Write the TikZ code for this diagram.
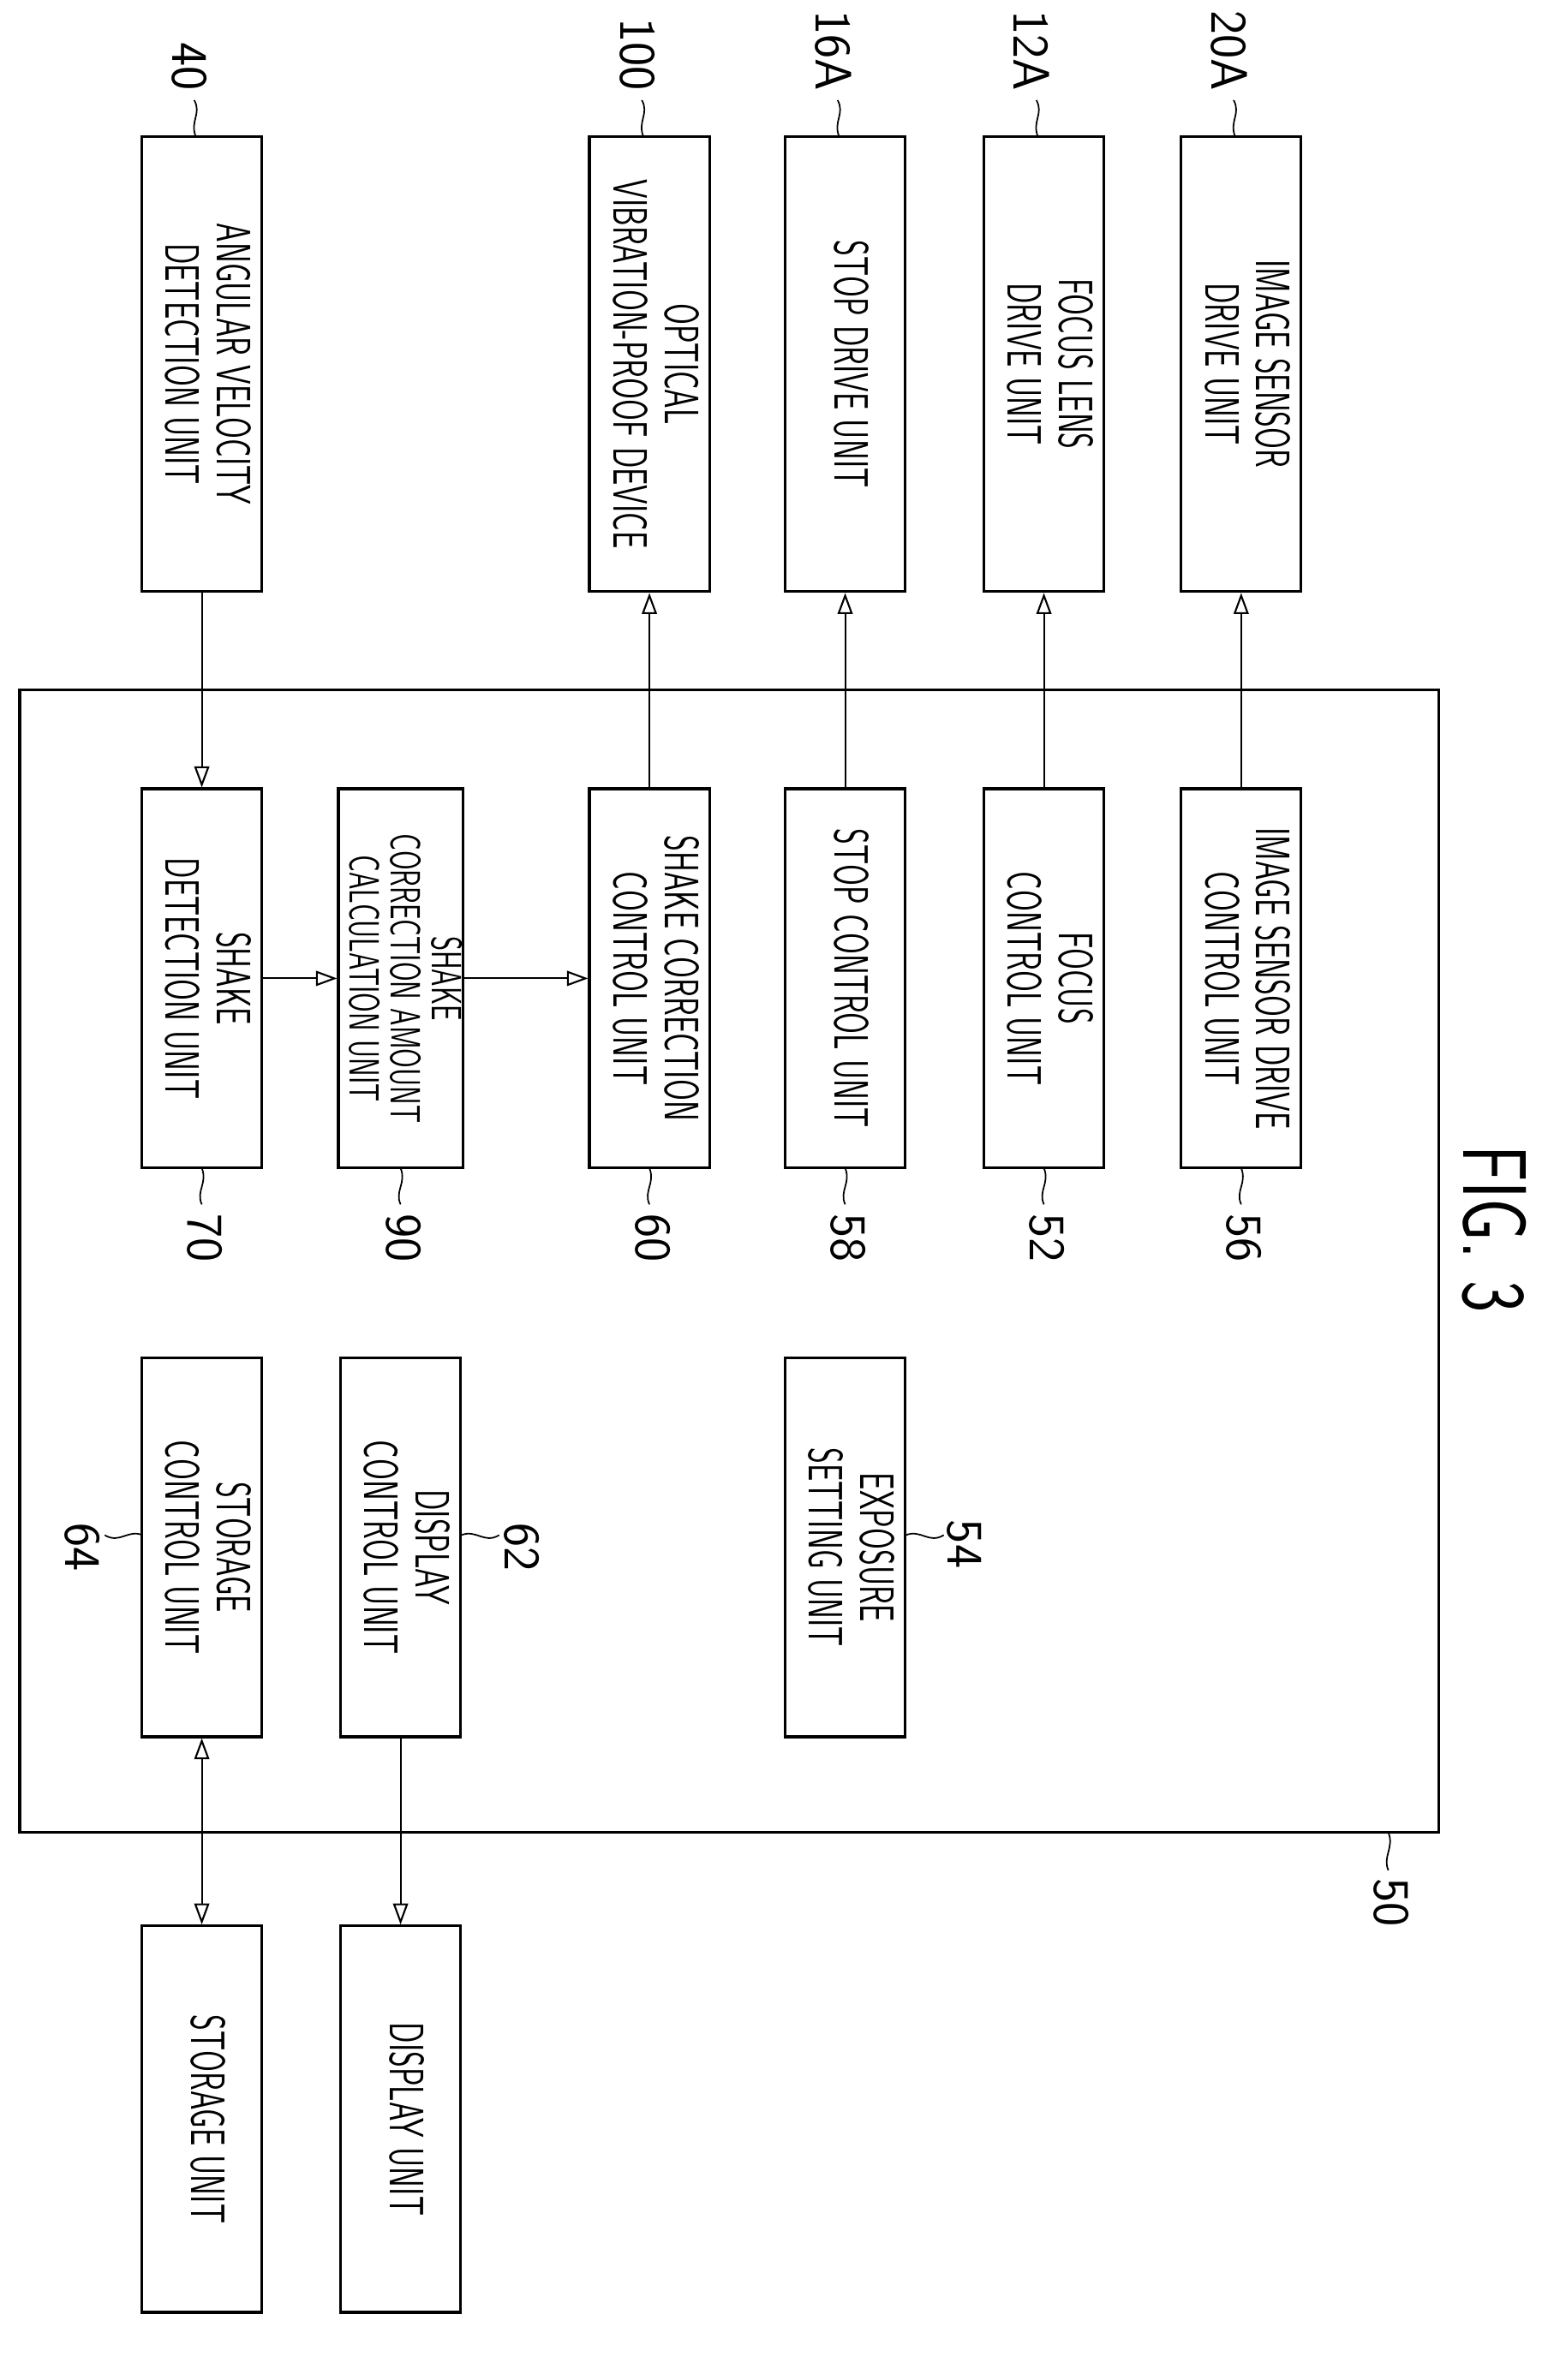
\documentclass[tikz,border=0pt]{standalone}
\usepackage{graphicx}
\usetikzlibrary{arrows.meta}
\newcommand{\narrow}[1]{\scalebox{0.64}[1]{\begin{tabular}{@{}c@{}}#1\end{tabular}}}
\begin{document}
\begin{tikzpicture}[
        x=0.0177cm, y=-0.0177cm,
        unit/.style={draw, line width=0.9pt, rotate=-90, inner sep=0pt,
            font=\fontsize{16}{17}\selectfont\sffamily, align=center},
        outer/.style={unit, minimum width=5.31cm, minimum height=1.40cm},
        inner/.style={unit, minimum width=4.425cm, minimum height=1.40cm},
        lower/.style={unit, minimum width=4.51cm, minimum height=1.40cm},
        reflabel/.style={rotate=-90, inner sep=1pt, font=\fontsize{17}{18}\selectfont\sffamily},
        leader/.style={line width=0.5pt},
        flow/.style={line width=0.6pt, -{Triangle[open, length=7pt, width=5pt]}},
        both/.style={line width=0.6pt, {Triangle[open, length=7pt, width=5pt]}-{Triangle[open, length=7pt, width=5pt]}}
    ]
    \useasboundingbox (0,0) rectangle (1024,1569);
    % frame of unit 50
    \draw[line width=0.9pt] (13,455) rectangle (948,1208);
    % units outside
    \node[outer] (d20) at (818,240) {\narrow{IMAGE SENSOR\\DRIVE UNIT}};
    \node[outer] (d12) at (688,240) {\narrow{FOCUS LENS\\DRIVE UNIT}};
    \node[outer] (d16) at (557,240) {\narrow{STOP DRIVE UNIT}};
    \node[outer] (d100) at (428,240) {\narrow{OPTICAL\\VIBRATION-PROOF DEVICE}};
    \node[outer] (d40) at (133,240) {\narrow{ANGULAR VELOCITY\\DETECTION UNIT}};
    % units inside 50
    \node[inner] (c56) at (818,645) {\narrow{IMAGE SENSOR DRIVE\\CONTROL UNIT}};
    \node[inner] (c52) at (688,645) {\narrow{FOCUS\\CONTROL UNIT}};
    \node[inner] (c58) at (557,645) {\narrow{STOP CONTROL UNIT}};
    \node[inner] (c60) at (428,645) {\narrow{SHAKE CORRECTION\\CONTROL UNIT}};
    \node[inner, font=\fontsize{14}{12.5}\selectfont\sffamily] (c90) at (264,645) {\narrow{SHAKE\\CORRECTION AMOUNT\\CALCULATION UNIT}};
    \node[inner] (c70) at (133,645) {\narrow{SHAKE\\DETECTION UNIT}};
    \node[inner] (c54) at (557,1020) {\narrow{EXPOSURE\\SETTING UNIT}};
    \node[inner] (c62) at (264,1020) {\narrow{DISPLAY\\CONTROL UNIT}};
    \node[inner] (c64) at (133,1020) {\narrow{STORAGE\\CONTROL UNIT}};
    % display and storage
    \node[lower] (u30) at (264,1397) {\narrow{DISPLAY UNIT}};
    \node[lower] (u32) at (133,1397) {\narrow{STORAGE UNIT}};
    % connections
    \draw[flow] (c56) -- (d20);
    \draw[flow] (c52) -- (d12);
    \draw[flow] (c58) -- (d16);
    \draw[flow] (c60) -- (d100);
    \draw[flow] (d40) -- (c70);
    \draw[flow] (c70) -- (c90);
    \draw[flow] (c90) -- (c60);
    \draw[flow] (c62) -- (u30);
    \draw[both] (c64) -- (u32);
    % reference numerals above the outer units
    \foreach \x/\t in {818/20A, 688/12A, 557/16A, 428/100, 133/40}{
        \draw[leader] (\x-4,90) .. controls (\x-8,80) and (\x,75) .. (\x-5,66);
        \node[reflabel, anchor=east] at (\x-8,62) {\t};
    }
    % reference numerals below the inner units
    \foreach \x/\t in {818/56, 688/52, 557/58, 428/60, 264/90, 133/70}{
        \draw[leader] (\x,770) .. controls (\x+4,780) and (\x-4,785) .. (\x,794);
        \node[reflabel, anchor=west] at (\x+2,798) {\t};
    }
    % side numerals
    \draw[leader] (597,1012) .. controls (607,1008) and (612,1018) .. (622,1012);
    \node[reflabel, anchor=south] at (622,1018) {54};
    \draw[leader] (304,1012) .. controls (314,1008) and (319,1018) .. (329,1012);
    \node[reflabel, anchor=south] at (330,1020) {62};
    \draw[leader] (94,1012) .. controls (84,1008) and (79,1018) .. (69,1012);
    \node[reflabel, anchor=north] at (68,1020) {64};
    \draw[leader] (915,1208) .. controls (919,1218) and (911,1224) .. (915,1233);
    \node[reflabel, anchor=west] at (917,1236) {50};
    % figure title
    \node[rotate=-90, font=\fontsize{30}{34}\selectfont\sffamily] (fig) at (985,810) {\scalebox{0.75}[1]{FIG. 3}};
\end{tikzpicture}
\end{document}
